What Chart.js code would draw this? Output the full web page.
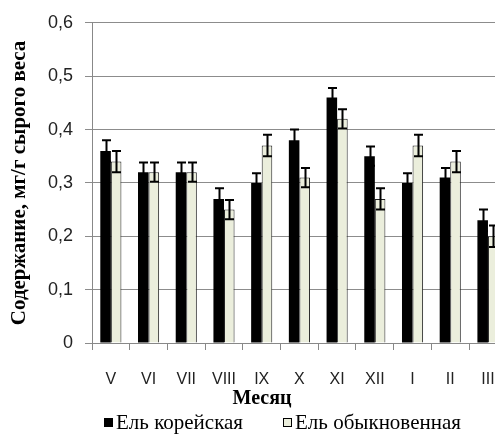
<!DOCTYPE html>
<html>
<head>
<meta charset="utf-8">
<script src="https://cdn.jsdelivr.net/npm/chart.js@4/dist/chart.umd.min.js"></script>
<style>
html,body{margin:0;padding:0;overflow:hidden;background:#fff;}
#wrap{width:515px;height:434px;}
</style>
</head>
<body>
<div id="wrap"><canvas id="c" width="515" height="434"></canvas></div>
<script>
const categories = ['V','VI','VII','VIII','IX','X','XI','XII','I','II','III'];
const koreanValues = [0.36,0.32,0.32,0.27,0.30,0.38,0.46,0.35,0.30,0.31,0.23];
const koreanErrors = [0.02,0.018,0.018,0.02,0.018,0.02,0.018,0.018,0.018,0.018,0.02];
const commonValues = [0.34,0.32,0.32,0.25,0.37,0.31,0.42,0.27,0.37,0.34,0.20];
const commonErrors = [0.02,0.018,0.018,0.018,0.02,0.018,0.018,0.02,0.02,0.02,0.02];
const yTicks = [0,0.1,0.2,0.3,0.4,0.5,0.6];
const seriesNames = ['Ель корейская','Ель обыкновенная'];
const axisTitles = {y:'Содержание, мг/г сырого веса', x:'Месяц'};

Chart.defaults.font.family = 'Liberation Serif';

const errorBarPlugin = {
  id:'errorBars',
  afterDatasetsDraw(chart){
    const ctx = chart.ctx;
    const y = chart.scales.y;
    ctx.save();
    chart.data.datasets.forEach((ds,di)=>{
      const meta = chart.getDatasetMeta(di);
      meta.data.forEach((bar,i)=>{
        const v = ds.data[i], e = ds.errors[i];
        const top = y.getPixelForValue(v+e), bot = y.getPixelForValue(v-e);
        const x = Math.round(bar.x)+0.5;
        ctx.strokeStyle = '#000';
        ctx.lineWidth = 2;
        ctx.beginPath();
        ctx.moveTo(x, top); ctx.lineTo(x, bot);
        ctx.moveTo(x-4.5, top); ctx.lineTo(x+4.5, top);
        ctx.moveTo(x-4.5, bot); ctx.lineTo(x+4.5, bot);
        ctx.stroke();
      });
    });
    ctx.restore();
  }
};

// x-axis title and legend placed as in the reference (offset from plot centre)
const bottomTextPlugin = {
  id:'bottomText',
  afterDraw(chart){
    const ctx = chart.ctx;
    ctx.save();
    ctx.fillStyle = '#000';
    ctx.textBaseline = 'alphabetic';
    ctx.textAlign = 'center';
    ctx.font = 'bold 20px "Liberation Serif"';
    ctx.fillText(axisTitles.x, 262, 404);
    ctx.textAlign = 'left';
    ctx.font = '21px "Liberation Serif"';
    const items = [
      {x:104, ds:chart.data.datasets[0]},
      {x:283, ds:chart.data.datasets[1]}
    ];
    items.forEach(it=>{
      ctx.fillStyle = it.ds.backgroundColor;
      ctx.fillRect(it.x, 418, 9, 9);
      ctx.strokeStyle = '#000';
      ctx.lineWidth = 1;
      ctx.strokeRect(it.x+0.5, 418.5, 8, 8);
      ctx.fillStyle = '#000';
      ctx.fillText(it.ds.label, it.x+12, 429);
    });
    ctx.restore();
  }
};

new Chart(document.getElementById('c'), {
  type:'bar',
  data:{
    labels: categories,
    datasets:[
      {label:seriesNames[0], data:koreanValues, errors:koreanErrors, backgroundColor:'#000000', borderColor:'#000000', borderWidth:0},
      {label:seriesNames[1], data:commonValues, errors:commonErrors, backgroundColor:'#EBEEDC', borderColor:'#222222', borderWidth:1}
    ]
  },
  options:{
    responsive:false,
    animation:false,
    devicePixelRatio:1,
    layout:{padding:{top:22,right:8,left:0,bottom:0}},
    datasets:{bar:{categoryPercentage:0.56, barPercentage:1.0}},
    scales:{
      x:{
        grid:{display:true, drawOnChartArea:false, drawTicks:true, tickLength:7, color:'#888', offset:true},
        border:{display:true, color:'#888'},
        ticks:{color:'#222', font:{family:'Liberation Sans', size:16}, padding:20, maxRotation:0, autoSkip:false},
        title:{display:false},
        afterFit(s){ s.height = 91; }
      },
      y:{
        min:0, max:0.6,
        afterBuildTicks(s){ s.ticks = yTicks.map(v=>({value:v})); },
        grid:{color:'#8c8c8c', tickLength:7, drawTicks:true},
        border:{display:true, color:'#888'},
        ticks:{color:'#222', font:{family:'Liberation Sans', size:18}, padding:12,
          callback:(v)=> v===0 ? '0' : v.toFixed(1).replace('.',',')},
        title:{display:true, text:axisTitles.y, color:'#000', font:{family:'Liberation Serif', size:21, weight:'bold'}, padding:{top:7,bottom:0}},
        afterFit(s){ s.width = 92; }
      }
    },
    plugins:{
      legend:{display:false},
      tooltip:{enabled:false}
    }
  },
  plugins:[errorBarPlugin, bottomTextPlugin]
});
</script>
</body>
</html>
